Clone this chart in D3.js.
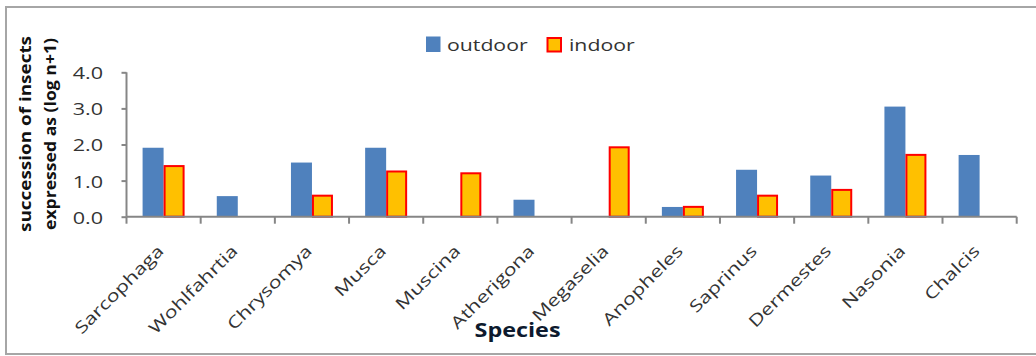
<!DOCTYPE html>
<html><head><meta charset="utf-8">
<script src="https://cdn.jsdelivr.net/npm/d3@7"></script>
<style>body{margin:0;background:#fff}svg{display:block}</style>
</head><body>
<svg id="c" width="1036" height="356"></svg>
<script>
const categories = ["Sarcophaga","Wohlfahrtia","Chrysomya","Musca","Muscina","Atherigona","Megaselia","Anopheles","Saprinus","Dermestes","Nasonia","Chalcis"];
const outdoor = [1.91, 0.57, 1.50, 1.91, 0, 0.47, 0, 0.27, 1.30, 1.14, 3.05, 1.71];
const indoor  = [1.43, 0, 0.61, 1.28, 1.23, 0, 1.95, 0.30, 0.61, 0.77, 1.74, 0];
const seriesNames = ["outdoor","indoor"];
const yTicks = [0,1,2,3,4];

const svg = d3.select("#c");
const font = "'Open Sans', sans-serif";

svg.append("rect").attr("x",6).attr("y",7).attr("width",1040).attr("height",347)
  .attr("fill","#fff").attr("stroke","#a6a6a6").attr("stroke-width",2);

const x = d3.scaleBand().domain(categories).range([126.5,1016.7]).padding(0);
const y = d3.scaleLinear().domain([0,4]).range([216.7,72.3]);
const xs = d3.scaleBand().domain(seriesNames).range([0,42]);
const off = (x.bandwidth()-42)/2;

// bars
const data = categories.map((c,i)=>({c, vals:[{s:"outdoor",v:outdoor[i]},{s:"indoor",v:indoor[i]}]}));
const g = svg.append("g");
data.forEach(d=>{
  d.vals.forEach(p=>{
    if(p.v<=0) return;
    const isIn = p.s==="indoor";
    g.append("rect")
      .attr("x", x(d.c)+off+xs(p.s) + (isIn?1:0))
      .attr("y", y(p.v) + (isIn?1:0))
      .attr("width", xs.bandwidth() - (isIn?2:0))
      .attr("height", y(0)-y(p.v) - (isIn?1:0))
      .attr("fill", isIn?"#FFC000":"#4F81BD")
      .attr("stroke", isIn?"#FF0000":"none")
      .attr("stroke-width", isIn?2:0);
  });
});

// y axis
const yAxis = d3.axisLeft(y).tickValues(yTicks).tickFormat(d3.format(".1f")).tickSize(5);
const ya = svg.append("g").attr("transform","translate(126.5,0)").call(yAxis);
ya.selectAll("path,line").attr("stroke","#868686").attr("stroke-width",2);
ya.select(".domain").attr("d","M0,"+y(4)+"V"+y(0));
ya.selectAll("text").attr("x",0).attr("transform","translate(-23.5,1) scale(1.27,1)")
  .attr("font-family",font).attr("font-size",17).attr("fill","#333");

// x axis
const xAxis = d3.axisBottom(x).tickSize(0).tickFormat("");
const xa = svg.append("g").attr("transform","translate(0,216.7)").call(xAxis);
xa.select(".domain").attr("stroke","#868686").attr("stroke-width",2).attr("d","M126.5,0H1016.7");
const bounds = categories.map(c=>x(c)).concat([x.range()[1]]);
xa.selectAll(".bt").data(bounds).enter().append("line")
  .attr("x1",d=>d).attr("x2",d=>d).attr("y1",0).attr("y2",7)
  .attr("stroke","#868686").attr("stroke-width",2);

// x labels
svg.append("g").selectAll("text").data(categories).enter().append("text")
  .attr("transform",d=>`translate(${x(d)+x.bandwidth()/2+1},${252}) rotate(-45) scale(1.3,1)`)
  .attr("text-anchor","end").attr("font-family",font).attr("font-size",16.5)
  .attr("fill","#333").text(d=>d);

// axis titles
svg.append("text").attr("transform","translate(517.5,337) scale(1.23,1)").attr("text-anchor","middle")
  .attr("font-family",font).attr("font-weight","bold").attr("font-size",19)
  .attr("fill","#0d1a2e").text("Species");

const yt = svg.append("text").attr("transform","translate(0,134) rotate(-90)")
  .attr("text-anchor","middle").attr("font-family",font).attr("font-weight","bold")
  .attr("font-size",15.5).attr("fill","#111");
yt.append("tspan").attr("x",0).attr("y",31).attr("textLength",196).attr("lengthAdjust","spacingAndGlyphs").text("succession of insects");
yt.append("tspan").attr("x",0).attr("y",56).attr("textLength",192).attr("lengthAdjust","spacingAndGlyphs").text("expressed as (log n+1)");

// legend
const leg = svg.append("g");
[["outdoor",426,"#4F81BD","none",447],["indoor",547.5,"#FFC000","#FF0000",569]].forEach(([t,sx,f,s,tx])=>{
  leg.append("rect").attr("x",sx).attr("y",s==="none"?36.5:38).attr("width",s==="none"?14.5:13.5).attr("height",s==="none"?15.5:13.5)
    .attr("fill",f).attr("stroke",s).attr("stroke-width",s==="none"?0:2);
  leg.append("text").attr("transform",`translate(${tx},50.5) scale(1.25,1)`).attr("font-family",font).attr("font-size",17)
    .attr("fill","#333").text(t);
});
</script>
</body></html>
